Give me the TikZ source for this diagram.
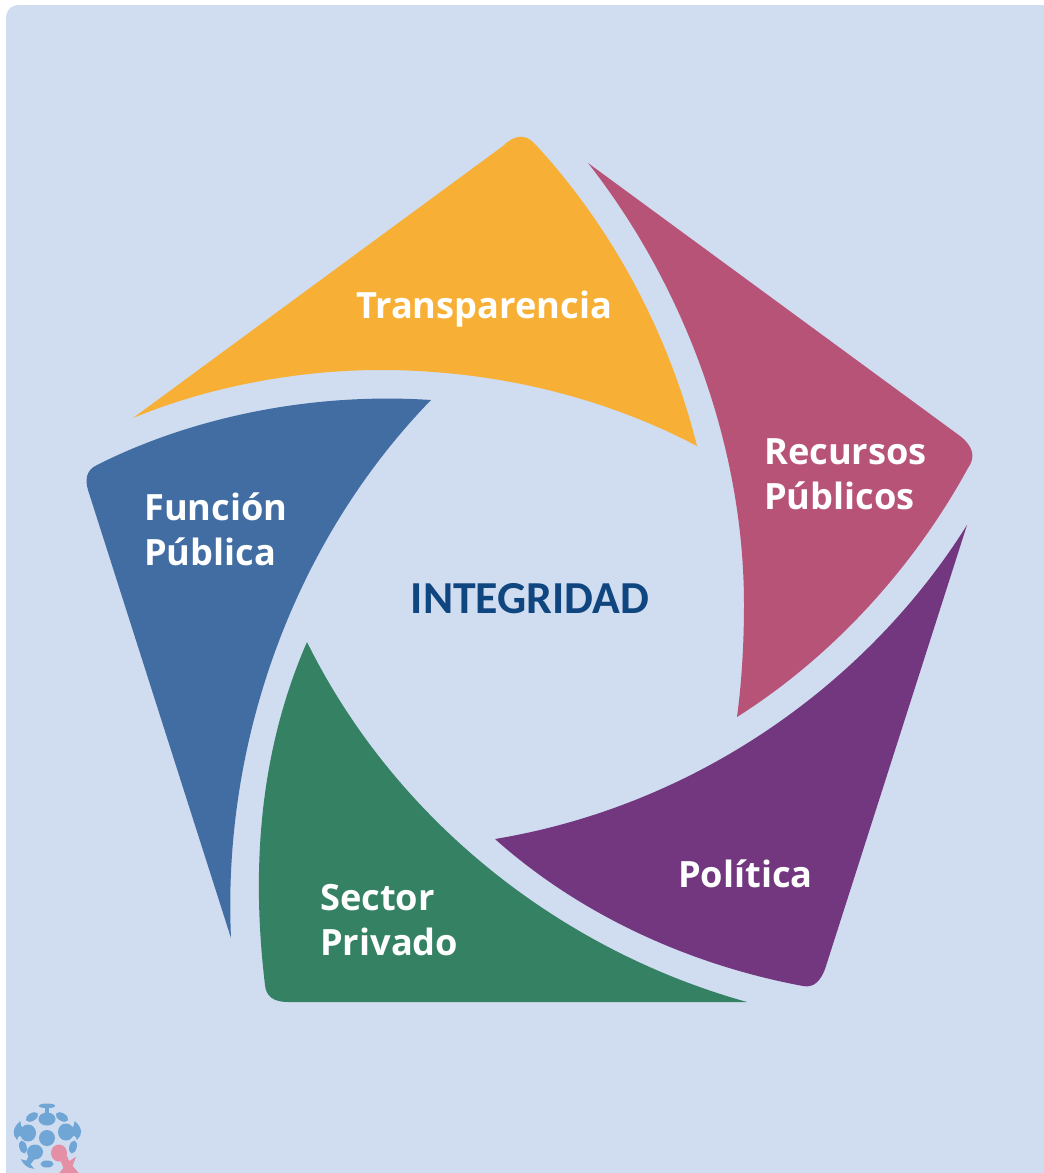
\documentclass[tikz,border=0pt]{standalone}
\usepackage{fontspec}
\setmainfont{Open Sans}
\newfontfamily\intfont{Carlito}
\definecolor{bgc}{HTML}{D0DCF0}
\definecolor{yel}{HTML}{F7B035}
\definecolor{mag}{HTML}{B85378}
\definecolor{pur}{HTML}{733780}
\definecolor{grn}{HTML}{358163}
\definecolor{blu}{HTML}{416DA2}
\definecolor{tit}{HTML}{0F4680}
\definecolor{lgb}{HTML}{6FA6D6}
\definecolor{lgp}{HTML}{E58FA6}
\tikzset{
 lab/.style={text=white,font=\fontsize{36.2}{45}\selectfont\bfseries,align=left,anchor=west,inner sep=0pt},
 blob/.style={fill=lgb,draw=lgb,line width=1pt},
 pblob/.style={fill=lgp,draw=lgp,line width=1pt}
}
\begin{document}
\begin{tikzpicture}[x=1pt,y=-1pt]
\useasboundingbox (0,0) rectangle (1044,1173);
\fill[white] (0,0) rectangle (1044,1173);
\fill[bgc] (6,1173) -- (6,19) .. controls (6,10) and (11,5) .. (20,5) -- (1044,5) -- (1044,1173) -- cycle;
% Transparencia
\fill[yel] (133,418) -- (503,146) .. controls (515,134) and (526,134) .. (535,144)
  .. controls (610,225) and (668,330) .. (697,446)
  .. controls (600,395) and (490,370) .. (380,370)
  .. controls (300,370) and (210,386) .. (133,418) -- cycle;
% Recursos
\fill[mag] (588,163) -- (960,436) .. controls (973,446) and (976,457) .. (968,468)
  .. controls (915,565) and (835,655) .. (737,717)
  .. controls (742,680) and (744,640) .. (744,605)
  .. controls (744,440) and (680,280) .. (588,163) -- cycle;
% Politica
\fill[pur] (967,525) -- (826,966) .. controls (821,982) and (813,988) .. (803,986)
  .. controls (690,965) and (580,915) .. (495,839)
  .. controls (700,805) and (870,680) .. (967,525) -- cycle;
% Sector
\fill[grn] (307,642) .. controls (395,820) and (560,950) .. (747,1002)
  -- (288,1002) .. controls (273,1002) and (266,996) .. (265,985)
  .. controls (250,860) and (262,745) .. (307,642) -- cycle;
% Funcion
\fill[blu] (431,400) .. controls (310,392) and (190,418) .. (97,465)
  .. controls (86,470) and (85,480) .. (88,490)
  -- (231,938) .. controls (222,740) and (295,540) .. (431,400) -- cycle;
% labels
\node[lab] (t1) at (356,309) {Transparencia};
\node[lab] (t2) at (764,474) {Recursos\\Públicos};
\node[lab] (t3) at (144,529) {Función\\Pública};
\node[lab] (t4) at (678,874) {Política};
\node[lab] (t5) at (320,920) {Sector\\Privado};
\node[text=tit,font=\intfont\fontsize{45.8}{50}\selectfont\bfseries,inner sep=0pt] (t0) at (530,599) {INTEGRIDAD};
% logo
\fill[lgb] (47,1138) circle (8);
\path[blob] (47,1105.8) ellipse (7.5 and 1.8);
\path[blob] (45.5,1106) rectangle (48.5,1116);
\path[blob] (47,1119) ellipse (8 and 6);
\path[blob,rotate around={30:(32,1117)}] (32,1117) ellipse (6.2 and 3.4);
\path[blob,rotate around={-30:(62,1117)}] (62,1117) ellipse (6.2 and 3.4);
\path[blob] (28,1133) ellipse (7.5 and 8);
\path[blob] (66,1132) ellipse (7.5 and 8);
\path[blob] (20,1122) .. controls (20,1128) and (24,1130) .. (26,1131) -- (24,1136) .. controls (21,1135) and (17,1135) .. (17,1139) .. controls (13,1135) and (13,1128) .. (20,1122) -- cycle;
\path[blob] (75,1122) .. controls (75,1128) and (70,1130) .. (68,1131) -- (70,1136) .. controls (73,1135) and (77,1135) .. (77,1139) .. controls (82,1135) and (82,1128) .. (75,1122) -- cycle;
\path[blob,rotate around={15:(23,1147)}] (23,1147) ellipse (3.2 and 6);
\path[blob,rotate around={-15:(73,1147)}] (73,1147) ellipse (3.2 and 6);
\path[blob] (35,1152) ellipse (7.5 and 7);
\path[blob] (29,1156) -- (34,1159) -- (30,1164) .. controls (31,1166) and (32,1167) .. (33,1168) .. controls (28,1168) and (24,1164) .. (22,1160) .. controls (24,1161) and (26,1161) .. (27,1161) -- cycle;
\path[blob] (47,1164) ellipse (6 and 3);
\path[pblob] (59,1153) ellipse (7.5 and 8);
\path[pblob] (60,1158) -- (66,1155) -- (69,1162) -- (75,1158) -- (72,1166) -- (78,1173) -- (60,1173) -- (64,1168) -- cycle;
\end{tikzpicture}
\end{document}
